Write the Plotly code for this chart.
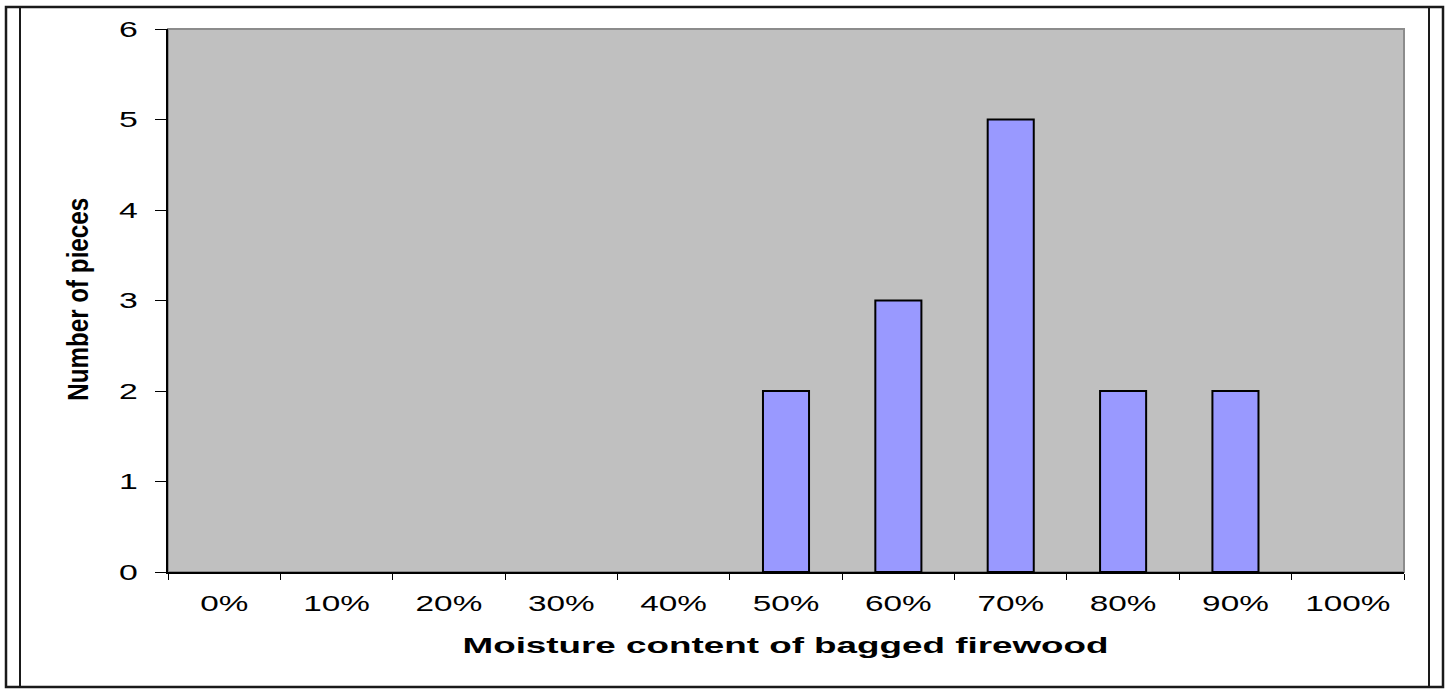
import plotly.graph_objects as go

# ---- data ----
categories = ["0%", "10%", "20%", "30%", "40%", "50%", "60%", "70%", "80%", "90%", "100%"]
counts = [0, 0, 0, 0, 0, 2, 3, 5, 2, 2, 0]
y_ticks = [0, 1, 2, 3, 4, 5, 6]
x_title = "Moisture content of bagged firewood"
y_title = "Number of pieces"

W, H = 1447, 692
L, R, T, B = 168, 1404, 29, 572  # plot area in pixels


def px(x):
    return (x - L) / (R - L)


def py(y):
    return (B - y) / (B - T)


FONT = "Liberation Sans, Arial, sans-serif"

fig = go.Figure(
    go.Bar(
        x=categories,
        y=[v if v else None for v in counts],
        width=0.41,
        marker=dict(color="#9999FF", line=dict(color="black", width=2)),
        hoverinfo="x+y",
    )
)

fig.update_layout(
    width=W,
    height=H,
    margin=dict(l=L, r=W - R, t=T, b=H - B, pad=0),
    paper_bgcolor="white",
    plot_bgcolor="#C0C0C0",
    showlegend=False,
    font=dict(family=FONT, size=22, color="black"),
    xaxis=dict(
        type="category",
        categoryorder="array",
        categoryarray=categories,
        tickson="boundaries",
        ticks="outside",
        ticklen=6,
        tickwidth=1,
        tickcolor="black",
        showline=True,
        linecolor="black",
        linewidth=1.5,
        showgrid=False,
        zeroline=False,
        ticklabelstandoff=10,
        tickfont=dict(family=FONT, size=22.5, color="black"),
    ),
    yaxis=dict(
        range=[0, 6],
        tickvals=y_ticks,
        ticks="outside",
        ticklen=11,
        tickwidth=1,
        tickcolor="black",
        showline=True,
        linecolor="black",
        linewidth=1.5,
        showgrid=False,
        zeroline=False,
        ticklabelstandoff=13,
        tickfont=dict(family=FONT, size=22.5, color="black"),
    ),
    annotations=[
        dict(
            text=x_title, xref="paper", yref="paper",
            x=px(785.5), y=py(645), xanchor="center", yanchor="middle",
            showarrow=False,
            font=dict(family=FONT, size=22.5, weight="bold", color="black"),
        ),
        dict(
            text=y_title, xref="paper", yref="paper",
            x=px(78), y=py(300), xanchor="center", yanchor="middle",
            textangle=-90, showarrow=False,
            font=dict(family=FONT, size=29, weight="bold", color="black"),
        ),
    ],
    shapes=[
        # plot area gray border
        dict(type="rect", xref="paper", yref="paper", x0=0, x1=1, y0=0, y1=1,
             line=dict(color="#8c8c8c", width=2), layer="below"),
        # outer frame
        dict(type="rect", xref="paper", yref="paper",
             x0=px(6), x1=px(1443), y0=py(687), y1=py(7),
             line=dict(color="#1a1a1a", width=2.5)),
        dict(type="line", xref="paper", yref="paper",
             x0=px(20), x1=px(20), y0=py(687), y1=py(7),
             line=dict(color="#1a1a1a", width=2)),
        dict(type="line", xref="paper", yref="paper",
             x0=px(1429), x1=px(1429), y0=py(687), y1=py(7),
             line=dict(color="#1a1a1a", width=2)),
    ],
)

post = """
document.body.style.margin = '0';
document.body.style.overflow = 'hidden';
var gd = document.getElementById('{plot_id}');
function fitF(el, f){
  if (!el || el.getAttribute('data-fit')) return;
  var l = el.getComputedTextLength();
  if (!l) return;
  el.setAttribute('textLength', (l*f).toFixed(1));
  el.setAttribute('lengthAdjust', 'spacingAndGlyphs');
  el.setAttribute('data-fit', '1');
}
function fitAbs(el, n){
  if (!el || el.getAttribute('data-fit')) return;
  el.setAttribute('textLength', n);
  el.setAttribute('lengthAdjust', 'spacingAndGlyphs');
  el.setAttribute('data-fit', '1');
}
function run(){
  try {
    gd.querySelectorAll('g.xtick text').forEach(function(t){ fitF(t, 1.48); });
    gd.querySelectorAll('g.ytick text').forEach(function(t){ fitF(t, 1.5); });
    var anns = gd.querySelectorAll('g.annotation');
    if (anns.length > 1) {
      fitAbs(anns[0].querySelector('text'), 646);
      fitAbs(anns[1].querySelector('text'), 203);
    }
  } catch (e) {}
}
run();
if (gd.on) gd.on('plotly_afterplot', run);
"""

fig.write_html("out.html", post_script=post, config={"displayModeBar": False})
